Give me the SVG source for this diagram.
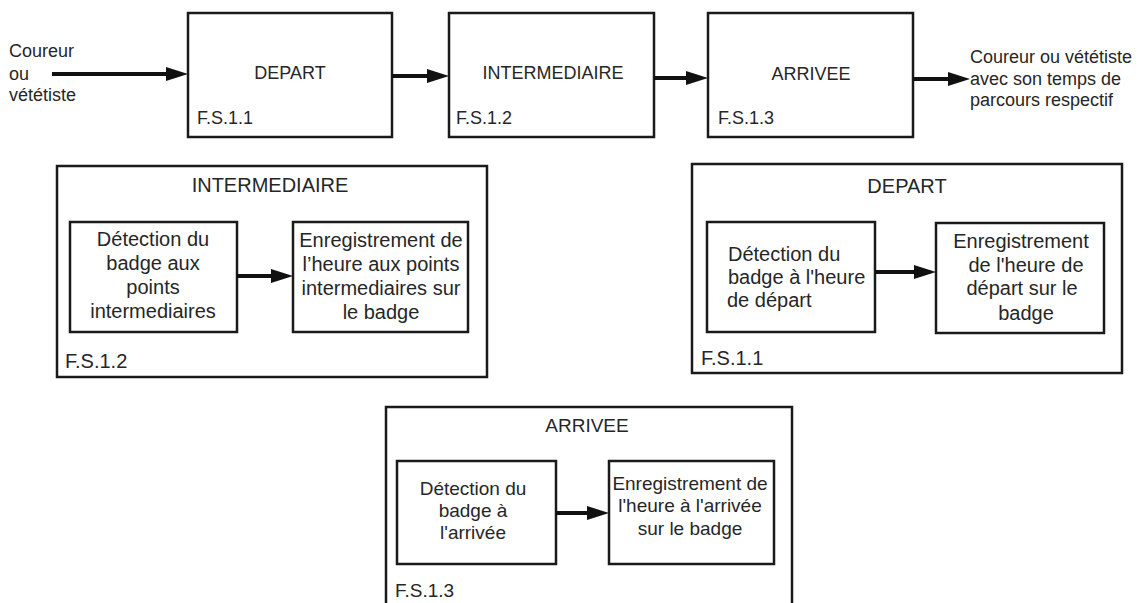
<svg xmlns="http://www.w3.org/2000/svg" width="1144" height="603" viewBox="0 0 1144 603">
<defs>
<style>
.box{fill:none;stroke:#1a1a1a;stroke-width:2.5}
.t{font-family:"Liberation Sans",Arial,sans-serif;fill:#262626}
.s18{font-size:18px}
.s20{font-size:20px}
.s19{font-size:19px}
.m{text-anchor:middle}
.c{stroke:#111;stroke-width:4;fill:none}
</style>
<marker id="ah" markerUnits="userSpaceOnUse" viewBox="0 0 22 14" markerWidth="22" markerHeight="14" refX="1" refY="7" orient="auto">
<path d="M0,0 L22,7 L0,14 z" fill="#111"/>
</marker>
</defs>
<rect width="1144" height="603" fill="#fff"/>

<g id="input">
<text class="t s18" x="9" y="57">Coureur</text>
<text class="t s18" x="9" y="80">ou</text>
<text class="t s18" x="9" y="101">vététiste</text>
</g>

<g id="top-depart">
<rect class="box" x="188" y="13" width="204" height="124"/>
<text class="t s18 m" x="290" y="79">DEPART</text>
<text class="t s18" x="197" y="124">F.S.1.1</text>
</g>

<g id="top-intermediaire">
<rect class="box" x="449" y="13" width="205" height="124"/>
<text class="t s18 m" x="553" y="79">INTERMEDIAIRE</text>
<text class="t s18" x="456" y="124">F.S.1.2</text>
</g>

<g id="top-arrivee">
<rect class="box" x="708" y="13" width="205" height="124"/>
<text class="t s18 m" x="811" y="80">ARRIVEE</text>
<text class="t s18" x="718" y="124">F.S.1.3</text>
</g>

<g id="output">
<text class="t s18" x="970" y="63">Coureur ou vététiste</text>
<text class="t s18" x="970" y="85">avec son temps de</text>
<text class="t s18" x="970" y="106">parcours respectif</text>
</g>

<g id="panel-intermediaire">
<rect class="box" x="57" y="166" width="430" height="211"/>
<text class="t s20 m" x="270" y="192">INTERMEDIAIRE</text>
<g id="pi-detect">
<rect class="box" x="70" y="222" width="167" height="110"/>
<text class="t s20 m" x="153" y="246">Détection du</text>
<text class="t s20 m" x="153" y="270">badge aux</text>
<text class="t s20 m" x="153" y="294">points</text>
<text class="t s20 m" x="153" y="318">intermediaires</text>
</g>
<g id="pi-enreg">
<rect class="box" x="293" y="222" width="175" height="110"/>
<text class="t s20 m" x="381" y="247">Enregistrement de</text>
<text class="t s20 m" x="381" y="271">l’heure aux points</text>
<text class="t s20 m" x="381" y="295">intermediaires sur</text>
<text class="t s20 m" x="381" y="319">le badge</text>
</g>
<text class="t s20" x="65" y="368">F.S.1.2</text>
</g>

<g id="panel-depart">
<rect class="box" x="692" y="164" width="430" height="209"/>
<text class="t s20 m" x="907" y="193">DEPART</text>
<g id="pd-detect">
<rect class="box" x="707" y="222" width="168" height="110"/>
<text class="t s20" x="728" y="261">Détection du</text>
<text class="t s20" x="728" y="284">badge à l'heure</text>
<text class="t s20" x="727" y="307">de départ</text>
</g>
<g id="pd-enreg">
<rect class="box" x="936" y="223" width="168" height="110"/>
<text class="t s20 m" x="1021" y="248">Enregistrement</text>
<text class="t s20 m" x="1026" y="272">de l'heure de</text>
<text class="t s20 m" x="1022" y="295">départ sur le</text>
<text class="t s20 m" x="1026" y="320">badge</text>
</g>
<text class="t s20" x="701" y="365">F.S.1.1</text>
</g>

<g id="panel-arrivee">
<rect class="box" x="386" y="407" width="406" height="210"/>
<text class="t s19 m" x="587" y="432">ARRIVEE</text>
<g id="pa-detect">
<rect class="box" x="397" y="461" width="159" height="103"/>
<text class="t s19 m" x="473" y="495">Détection du</text>
<text class="t s19 m" x="473" y="517">badge à</text>
<text class="t s19 m" x="473" y="539">l'arrivée</text>
</g>
<g id="pa-enreg">
<rect class="box" x="609" y="461" width="165" height="103"/>
<text class="t s19 m" x="690" y="490">Enregistrement de</text>
<text class="t s19 m" x="690" y="512">l'heure à l'arrivée</text>
<text class="t s19 m" x="690" y="535">sur le badge</text>
</g>
<text class="t s19" x="395" y="597">F.S.1.3</text>
</g>

<g id="connectors">
<line class="c" x1="52" y1="74" x2="167" y2="74" marker-end="url(#ah)"/>
<line class="c" x1="392" y1="76" x2="428" y2="76" marker-end="url(#ah)"/>
<line class="c" x1="654" y1="78" x2="687" y2="78" marker-end="url(#ah)"/>
<line class="c" x1="913" y1="79" x2="949" y2="79" marker-end="url(#ah)"/>
<line class="c" x1="237" y1="276" x2="272" y2="276" marker-end="url(#ah)"/>
<line class="c" x1="875" y1="272" x2="915" y2="272" marker-end="url(#ah)"/>
<line class="c" x1="556" y1="513" x2="588" y2="513" marker-end="url(#ah)"/>
</g>
</svg>
